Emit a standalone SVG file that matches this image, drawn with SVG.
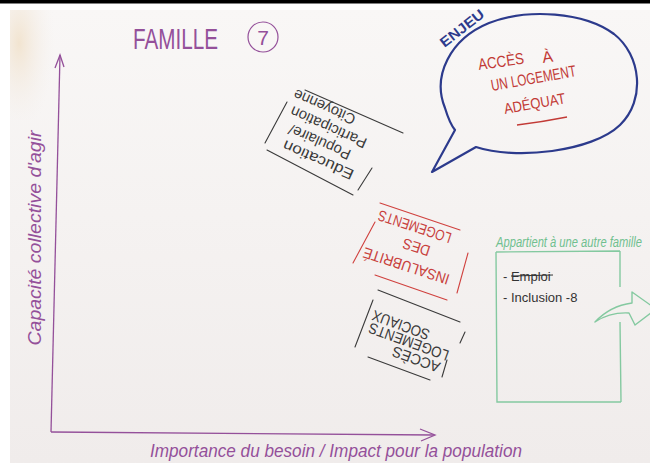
<svg xmlns="http://www.w3.org/2000/svg" width="650" height="463" viewBox="0 0 650 463">
<defs>
<radialGradient id="stain" cx="0.2" cy="0.3" r="0.8">
<stop offset="0" stop-color="#f1e2cc" stop-opacity="0.9"/>
<stop offset="1" stop-color="#f4efec" stop-opacity="0"/>
</radialGradient>
<linearGradient id="paper" x1="0" y1="0" x2="0" y2="1">
<stop offset="0" stop-color="#f9f7f6"/>
<stop offset="1" stop-color="#f0eceb"/>
</linearGradient>
<style>
.hand{font-family:"Liberation Sans Narrow","Liberation Sans","DejaVu Sans",sans-serif}
.purple{fill:#94509a}
.axis{stroke:#94509a;stroke-width:1.3;fill:none}
.card{stroke:#3a3a3a;stroke-width:1.1;fill:none;stroke-linecap:round}
.cardr{stroke:#d0413e;stroke-width:1.1;fill:none;stroke-linecap:round}
.ct{fill:#3a3a3a;font-size:15px;text-anchor:middle}
.rt{fill:#c8403c;font-size:15px;text-anchor:middle}
.green{stroke:#84c9a0;stroke-width:1.4;fill:none}
.red{fill:#c23a36}
</style>
</defs>
<rect x="0" y="0" width="650" height="463" fill="#ffffff"/>
<rect x="10" y="10" width="640" height="453" fill="url(#paper)"/>
<rect x="10" y="10" width="45" height="110" fill="url(#stain)"/>
<rect x="0" y="0" width="650" height="3.5" fill="#000000"/>

<g id="title">
<text class="hand purple" x="133" y="49" font-size="29" textLength="85" lengthAdjust="spacingAndGlyphs">FAMILLE</text>
<circle cx="263" cy="37" r="15" fill="none" stroke="#94509a" stroke-width="1.2"/>
<text class="hand purple" x="263" y="45" font-size="21" text-anchor="middle">7</text>
</g>

<g id="axes">
<path class="axis" d="M51,432 L60,55"/>
<path class="axis" d="M55,68 L60,55 L64,67"/>
<path class="axis" d="M51,432 Q240,433 434,435"/>
<path class="axis" d="M420,429 L435,435 L421,441"/>
<text class="hand purple" x="0" y="0" font-size="18" font-style="italic" text-anchor="middle" transform="translate(41,238) rotate(-90)" textLength="215" lengthAdjust="spacingAndGlyphs">Capacité collective d'agir</text>
<text class="hand purple" x="150" y="457" font-size="18" font-style="italic" textLength="372" lengthAdjust="spacingAndGlyphs">Importance du besoin / Impact pour la population</text>
</g>

<g id="enjeu">
<path d="M476,147 C515,160 592,152 620,125 C646,100 641,55 614,34 C584,12 528,8 489,23 C450,39 432,76 445,108 C448,118 451,125 455,130 L432,172 L476,147 Z" fill="none" stroke="#2c3a8c" stroke-width="2.2" stroke-linejoin="round"/>
<text class="hand" x="0" y="0" font-size="14" font-weight="bold" fill="#2c3a8c" text-anchor="middle" transform="translate(465,32) rotate(-38)" textLength="52" lengthAdjust="spacingAndGlyphs">ENJEU</text>
<text class="hand red" x="0" y="0" font-size="16" transform="translate(479,70) rotate(-8)" textLength="46" lengthAdjust="spacingAndGlyphs">ACCÈS</text>
<text class="hand red" x="0" y="0" font-size="16" transform="translate(543,63) rotate(-8)">À</text>
<text class="hand red" x="0" y="0" font-size="16" transform="translate(492,91) rotate(-10)" textLength="86" lengthAdjust="spacingAndGlyphs">UN  LOGEMENT</text>
<text class="hand red" x="0" y="0" font-size="15" transform="translate(505,114) rotate(-10)" textLength="62" lengthAdjust="spacingAndGlyphs">ADÉQUAT</text>
<path d="M517,125 Q542,122 567,117" fill="none" stroke="#c23a36" stroke-width="1.3"/>
</g>

<g id="card-education">
<path class="card" d="M305,90 L403,133 M287,102 L265,143 M267,150 L353,195 M372,168 L358,190"/>
<g transform="translate(322,132) rotate(204)" class="hand">
<text class="ct" x="-8" y="-22" textLength="76" lengthAdjust="spacingAndGlyphs">Education</text>
<text class="ct" x="-2" y="-5" textLength="66" lengthAdjust="spacingAndGlyphs">Populaire/</text>
<text class="ct" x="-4" y="12" textLength="82" lengthAdjust="spacingAndGlyphs">Participation</text>
<text class="ct" x="8" y="29" textLength="66" lengthAdjust="spacingAndGlyphs">Citoyenne</text>
</g>
</g>

<g id="card-insalubrite">
<path class="cardr" d="M380,203 L460,230 M375,222 L353,263 M375,275 L447,300 M468,253 L457,293"/>
<g transform="translate(413,248) rotate(198)" class="hand">
<text class="rt" x="1" y="-14" textLength="90" lengthAdjust="spacingAndGlyphs">INSALUBRITÉ</text>
<text class="rt" x="-3" y="7" textLength="28" lengthAdjust="spacingAndGlyphs">DES</text>
<text class="rt" x="5" y="26" textLength="76" lengthAdjust="spacingAndGlyphs">LOGEMENTS</text>
</g>
</g>

<g id="card-acces">
<path class="card" d="M378,290 L460,322 M373,300 L355,347 M368,357 L430,380 M465,332 L460,343 M447,360 L442,377"/>
<g transform="translate(410,341) rotate(200)" class="hand">
<text class="ct" x="-12" y="-10" font-size="14" textLength="50" lengthAdjust="spacingAndGlyphs">ACCÈS</text>
<text class="ct" x="1" y="4" font-size="14" textLength="84" lengthAdjust="spacingAndGlyphs">LOGEMENTS</text>
<text class="ct" x="14" y="17" font-size="14" textLength="60" lengthAdjust="spacingAndGlyphs">SOCIAUX</text>
</g>
</g>

<g id="autre-famille">
<text class="hand" x="0" y="0" font-size="11" font-style="italic" fill="#6fc08f" transform="translate(496,247) scale(1,1.3)" textLength="146" lengthAdjust="spacingAndGlyphs">Appartient à une autre famille</text>
<path class="green" d="M496,252 L620,251 M496,252 L497,402 L621,402 M620,251 L620,287 M620,322 L621,402"/>
<text class="hand" x="503" y="281" font-size="13" fill="#333">- Emploi</text>
<path d="M511,276 L553,275" stroke="#333" stroke-width="1"/>
<text class="hand" x="503" y="302" font-size="13" fill="#333">- Inclusion -8</text>
</g>

<g id="connectors">
<path d="M595,322 Q610,306 632,303 L632,292 L656,309 L635,325 L629,313 Q610,312 595,322 Z" fill="#f3f0ee" stroke="#84c9a0" stroke-width="1.4" stroke-linejoin="round"/>
</g>
</svg>
